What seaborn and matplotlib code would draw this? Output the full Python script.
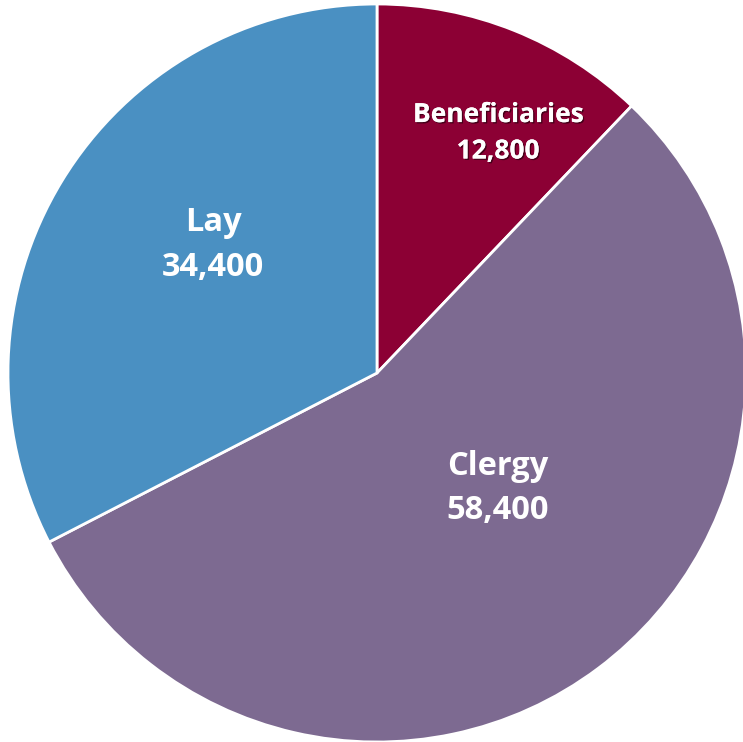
import matplotlib
matplotlib.use("Agg")
import matplotlib.pyplot as plt
import matplotlib.patheffects as pe
import seaborn as sns
import numpy as np

sns.set_theme(style="white")
plt.rcParams['font.family'] = ['Open Sans', 'DejaVu Sans']

categories = ["Beneficiaries", "Clergy", "Lay"]
values = [12800, 58400, 34400]
colors = ["#8C0034", "#7D6A91", "#4A90C2"]
label_pos = [(0.328, 0.651), (0.328, -0.312), (-0.444, 0.347)]
label_size = [19, 23.5, 23.5]

fig = plt.figure(figsize=(7.43, 7.42), dpi=100)
ax = fig.add_axes([0, 0, 1, 1])
wedges, _ = ax.pie(values, colors=colors, startangle=90, counterclock=False,
                   radius=1.0, wedgeprops=dict(edgecolor="white", linewidth=2))
for cat, val, (x, y), fs in zip(categories, values, label_pos, label_size):
    t = ax.text(x, y, f"{cat}\n{val:,}", ha="center", va="center", color="white",
                fontsize=fs, fontweight="bold", linespacing=1.45)
    if cat == "Beneficiaries":
        t.set_path_effects([pe.withSimplePatchShadow(offset=(1, -1), shadow_rgbFace="black", alpha=0.5), pe.Normal()])
ax.set_xlim(-377/369, (743-377)/369)
ax.set_ylim(-(742-373)/369, 373/369)
ax.set_aspect("equal")
ax.axis("off")
fig.savefig("out.png", dpi=100)
